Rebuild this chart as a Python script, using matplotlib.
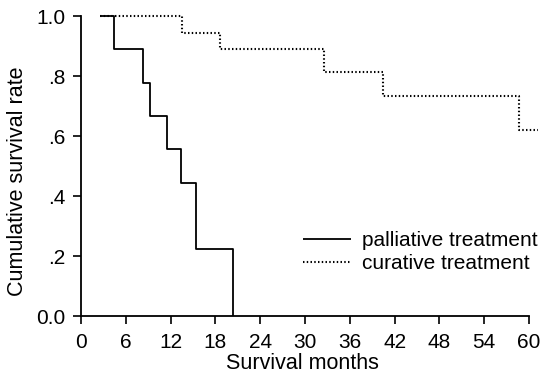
import matplotlib
matplotlib.use("Agg")
import matplotlib.pyplot as plt

plt.rcParams['font.family'] = ['Liberation Sans', 'DejaVu Sans']

# Palliative treatment (step function: time of each step start, survival level)
pal_t = [2.5, 4.4, 8.3, 9.2, 11.5, 13.4, 15.4, 20.4]
pal_s = [1.0, 0.889, 0.778, 0.667, 0.556, 0.444, 0.222, 0.0]

# Curative treatment
cur_t = [2.5, 13.5, 18.6, 32.5, 40.4, 58.7, 61.2]
cur_s = [1.0, 0.944, 0.889, 0.815, 0.735, 0.62, 0.62]

xticks = [0, 6, 12, 18, 24, 30, 36, 42, 48, 54, 60]
yticks = [0.0, 0.2, 0.4, 0.6, 0.8, 1.0]
ytick_labels = ["0.0", ".2", ".4", ".6", ".8", "1.0"]

W, H = 541, 374
fig = plt.figure(figsize=(W / 100, H / 100), dpi=100)
ax = fig.add_axes([81 / W, 1 - 316 / H, 448 / W, 300 / H])

ax.step(pal_t, pal_s, where='post', color='black', lw=1.3, solid_capstyle='butt',
        label='palliative treatment', clip_on=False)
ax.step(cur_t, cur_s, where='post', color='black', lw=1.5, linestyle=(0, (0.7, 1.1)),
        label='curative treatment', clip_on=False)

ax.set_xlim(0, 60)
ax.set_ylim(0, 1.0)
ax.set_xticks(xticks)
ax.set_xticklabels([str(v) for v in xticks])
ax.set_yticks(yticks)
ax.set_yticklabels(ytick_labels)

for s in ['top', 'right']:
    ax.spines[s].set_visible(False)
for s in ['left', 'bottom']:
    ax.spines[s].set_linewidth(1.3)
ax.tick_params(direction='out', length=6, width=1.2, labelsize=15, colors='black')
ax.tick_params(axis='x', pad=6)
ax.tick_params(axis='y', pad=5)

ax.set_xlabel('Survival months', fontsize=15.5)
ax.set_ylabel('Cumulative survival rate', fontsize=15.5)
ax.xaxis.set_label_coords(0.495, -0.123)
ax.yaxis.set_label_coords(-0.118, 0.45)

leg = fig.legend(loc='upper left', bbox_to_anchor=(303 / W, 1 - 231 / H), frameon=False,
                 fontsize=15, handlelength=2.3, handletextpad=0.55, labelspacing=0.2,
                 borderpad=0, borderaxespad=0)

fig.savefig('out.png', dpi=100)
